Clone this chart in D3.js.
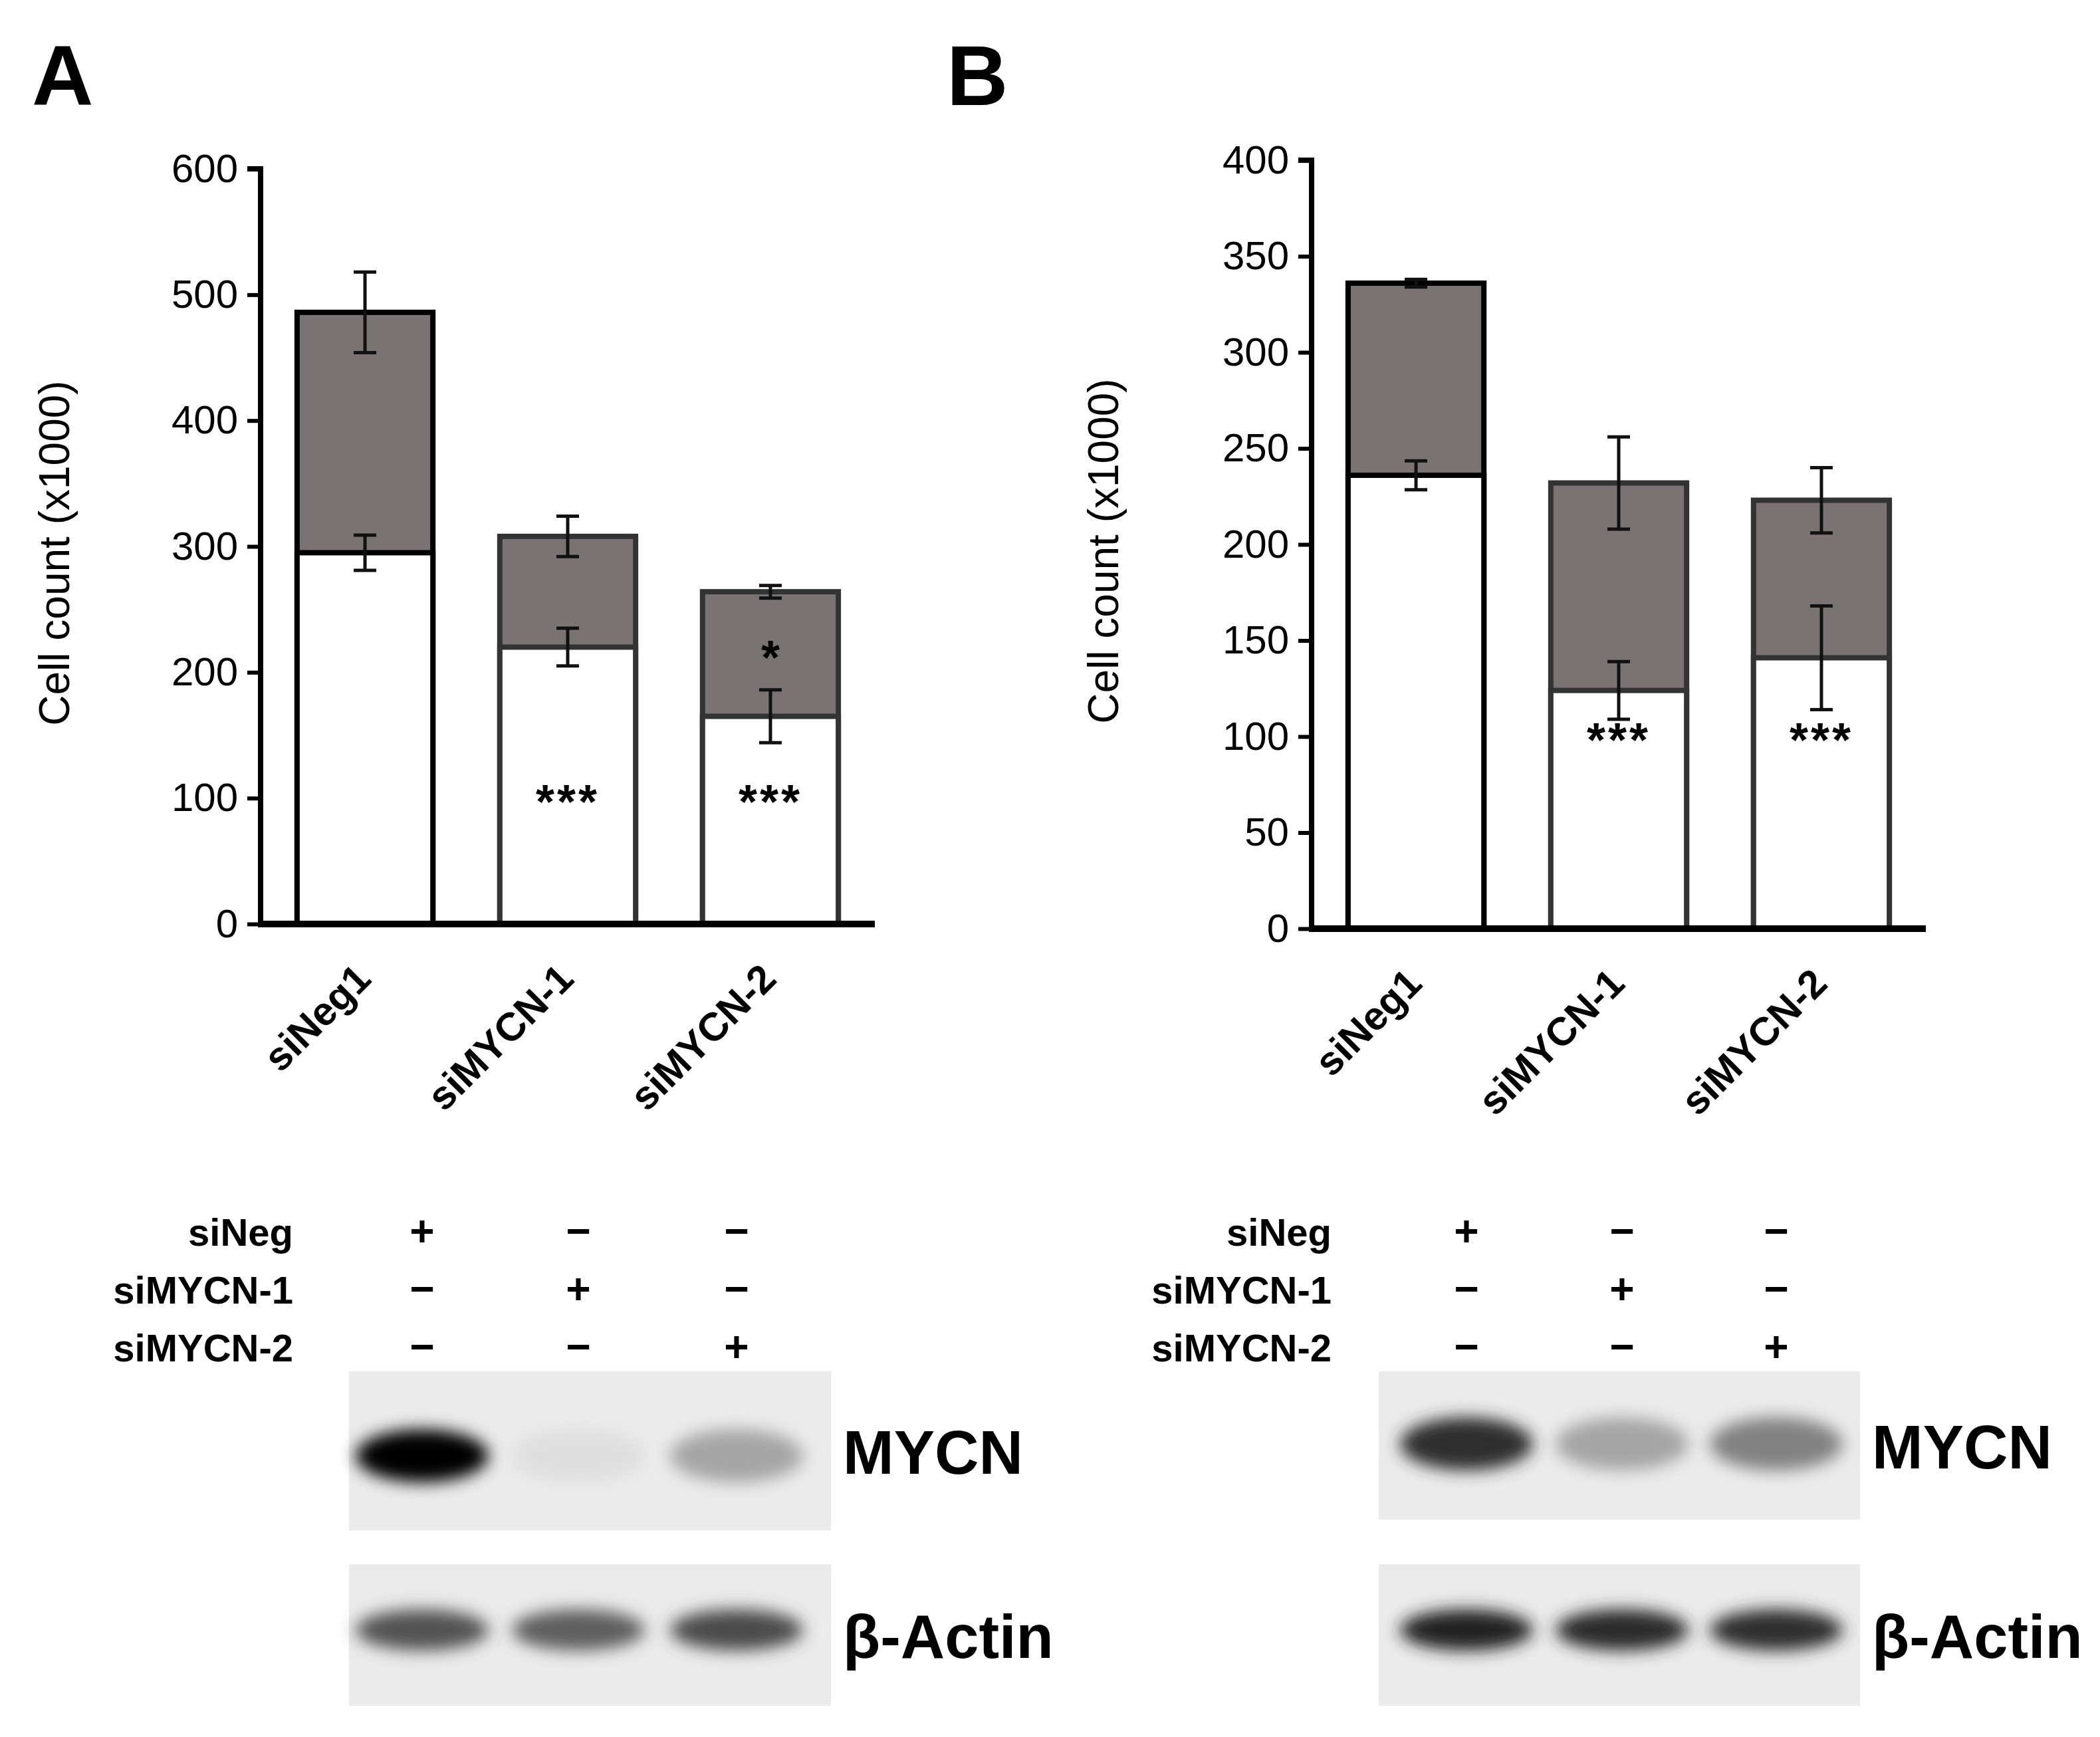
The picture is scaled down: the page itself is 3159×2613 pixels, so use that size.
<!DOCTYPE html>
<html>
<head>
<meta charset="utf-8">
<script src="https://cdn.jsdelivr.net/npm/d3@7"></script>
<style>
  body { margin: 0; background: #fff; }
  text { font-family: "Liberation Sans", Arial, sans-serif; }
</style>
</head>
<body>
<div id="fig"></div>
<script>
// ---- data ----
const categories = ['siNeg1', 'siMYCN-1', 'siMYCN-2'];

const whiteA = [295, 220, 165];
const whiteErrA = [14, 15, 21];
const totalA = [486, 308, 264];
const totalErrA = [32, 16, 5];
const starsWhiteA = ['', '***', '***'];
const starsGreyA = ['', '', '*'];
const ticksA = [0, 100, 200, 300, 400, 500, 600];

const whiteB = [236, 124, 141];
const whiteErrB = [7.5, 15, 27];
const totalB = [336, 232, 223];
const totalErrB = [2, 24, 17];
const starsWhiteB = ['', '***', '***'];
const ticksB = [0, 50, 100, 150, 200, 250, 300, 350, 400];

const rowLabels = ['siNeg', 'siMYCN-1', 'siMYCN-2'];
const signs = [['+', '−', '−'], ['−', '+', '−'], ['−', '−', '+']];

// band intensities (0 = none, 1 = black)
const mycnA = [1.0, 0.05, 0.3];
const mycnB = [0.8, 0.3, 0.45];
const actinA = [0.65, 0.6, 0.68];
const actinB = [0.85, 0.82, 0.8];

const W = 3159, H = 2613;
const svg = d3.select('#fig').append('svg').attr('width', W).attr('height', H);
const defs = svg.append('defs');
defs.append('filter').attr('id', 'blur').attr('x', '-30%').attr('y', '-60%').attr('width', '160%').attr('height', '220%')
  .append('feGaussianBlur').attr('stdDeviation', 12);

function panel(opt) {
  const g = svg.append('g');
  const x = d3.scaleBand().domain(categories).range([opt.x0, opt.x1]).paddingInner(0.33).paddingOuter(0.18);
  const y = d3.scaleLinear().domain([0, opt.max]).range([opt.y0, opt.yTop]);

  // panel letter
  g.append('text').attr('x', opt.letterX).attr('y', 158).text(opt.letter)
    .attr('font-size', 128).attr('font-weight', 'bold');

  // y axis title
  g.append('text').attr('transform', `translate(${opt.titleX},${(opt.y0 + opt.yTop) / 2 + 10}) rotate(-90)`)
    .attr('text-anchor', 'middle').attr('font-size', 64).text('Cell count (x1000)');

  // stacked bars: grey total first then white on top
  g.selectAll('.tot').data(categories).enter().append('rect')
    .attr('x', d => x(d)).attr('width', x.bandwidth())
    .attr('y', (d, i) => y(opt.total[i])).attr('height', (d, i) => y(0) - y(opt.total[i]))
    .attr('fill', '#7a7373').attr('stroke', (d, i) => i === 0 ? '#000' : '#333').attr('stroke-width', 8);
  g.selectAll('.wh').data(categories).enter().append('rect')
    .attr('x', d => x(d)).attr('width', x.bandwidth())
    .attr('y', (d, i) => y(opt.white[i])).attr('height', (d, i) => y(0) - y(opt.white[i]))
    .attr('fill', '#fff').attr('stroke', (d, i) => i === 0 ? '#000' : '#333').attr('stroke-width', 8);

  // error bars
  function errs(vals, errs) {
    categories.forEach((c, i) => {
      const cx = x(c) + x.bandwidth() / 2;
      const a = y(vals[i] + errs[i]), b = y(vals[i] - errs[i]);
      g.append('line').attr('x1', cx).attr('x2', cx).attr('y1', a).attr('y2', b).attr('stroke', '#111').attr('stroke-width', 5);
      [a, b].forEach(yy => g.append('line').attr('x1', cx - 17).attr('x2', cx + 17).attr('y1', yy).attr('y2', yy)
        .attr('stroke', '#111').attr('stroke-width', 5));
    });
  }
  errs(opt.white, opt.whiteErr);
  errs(opt.total, opt.totalErr);

  // significance stars
  g.selectAll('.sw').data(opt.starsWhite).enter().append('text')
    .attr('x', (d, i) => x(categories[i]) + x.bandwidth() / 2).attr('y', y(100) + 30)
    .attr('text-anchor', 'middle').attr('font-size', 72).attr('font-weight', 'bold').attr('letter-spacing', 4).text(d => d);
  if (opt.starsGrey) {
    g.selectAll('.sg').data(opt.starsGrey).enter().append('text')
      .attr('x', (d, i) => x(categories[i]) + x.bandwidth() / 2).attr('y', (d, i) => y((opt.white[i] + opt.total[i]) / 2) + 30)
      .attr('text-anchor', 'middle').attr('font-size', 72).attr('font-weight', 'bold').text(d => d);
  }

  // axes
  const yAxis = d3.axisLeft(y).tickValues(opt.ticks).tickSize(20).tickPadding(14);
  const ya = g.append('g').attr('transform', `translate(${opt.x0},0)`).call(yAxis);
  ya.select('.domain').attr('stroke-width', 8).attr('d', `M-20,${opt.yTop}H0V${opt.y0}`);
  ya.selectAll('.tick line').attr('stroke-width', 6);
  ya.selectAll('text').attr('font-size', 60).attr('font-family', '"Liberation Sans", Arial, sans-serif').attr('fill', '#000');

  const xa = g.append('g').attr('transform', `translate(0,${opt.y0})`)
    .call(d3.axisBottom(x).tickSize(0).tickFormat(''));
  xa.select('.domain').attr('stroke-width', 10).attr('d', `M${opt.x0 - 4},0H${opt.x1}`);

  g.selectAll('.xl').data(categories).enter().append('text')
    .attr('transform', d => `translate(${x(d) + x.bandwidth() / 2 + 12},${opt.y0 + 86}) rotate(-45)`)
    .attr('text-anchor', 'end').attr('font-size', 60).attr('font-weight', 'bold').text(d => d);

  // treatment table
  rowLabels.forEach((r, ri) => {
    const yy = 1874 + ri * 87;
    g.append('text').attr('x', opt.rowX).attr('y', yy).attr('text-anchor', 'end')
      .attr('font-size', 58).attr('font-weight', 'bold').text(r);
    signs[ri].forEach((s, ci) => g.append('text').attr('x', opt.cols[ci]).attr('y', yy)
      .attr('text-anchor', 'middle').attr('font-size', 64).attr('font-weight', 'bold').text(s));
  });

  // blots
  function blot(y0, y1, bands, bandY, bandH, label) {
    g.append('rect').attr('x', opt.blotX0).attr('y', y0).attr('width', opt.blotX1 - opt.blotX0).attr('height', y1 - y0)
      .attr('fill', '#ebebeb');
    bands.forEach((v, i) => {
      if (v <= 0.01) return;
      const grey = Math.round(235 * (1 - v));
      g.append('ellipse').attr('cx', opt.cols[i]).attr('cy', bandY).attr('rx', 100).attr('ry', bandH / 2)
        .attr('fill', `rgb(${grey},${grey},${grey})`).attr('filter', 'url(#blur)');
    });
    g.append('text').attr('x', opt.blotX1 + 18).attr('y', (y0 + y1) / 2 + 34).attr('font-size', 92)
      .attr('font-weight', 'bold').text(label);
  }
  blot(2063, opt.mycnBottom, opt.mycn, opt.mycnY, 80, 'MYCN');
  blot(2353, 2566, opt.actin, 2452, 62, 'β-Actin');
}

panel({
  letter: 'A', letterX: 48, titleX: 104,
  x0: 392, x1: 1316, y0: 1390, yTop: 254, max: 600, ticks: ticksA,
  white: whiteA, whiteErr: whiteErrA, total: totalA, totalErr: totalErrA,
  starsWhite: starsWhiteA, starsGrey: starsGreyA,
  rowX: 441, cols: [635, 870, 1108], blotX0: 525, blotX1: 1250,
  mycn: mycnA, mycnY: 2190, mycnBottom: 2302, actin: actinA
});

panel({
  letter: 'B', letterX: 1424, titleX: 1682,
  x0: 1973, x1: 2897, y0: 1397, yTop: 241, max: 400, ticks: ticksB,
  white: whiteB, whiteErr: whiteErrB, total: totalB, totalErr: totalErrB,
  starsWhite: starsWhiteB, starsGrey: null,
  rowX: 2003, cols: [2206, 2440, 2672], blotX0: 2074, blotX1: 2798,
  mycn: mycnB, mycnY: 2172, mycnBottom: 2286, actin: actinB
});
</script>
</body>
</html>
